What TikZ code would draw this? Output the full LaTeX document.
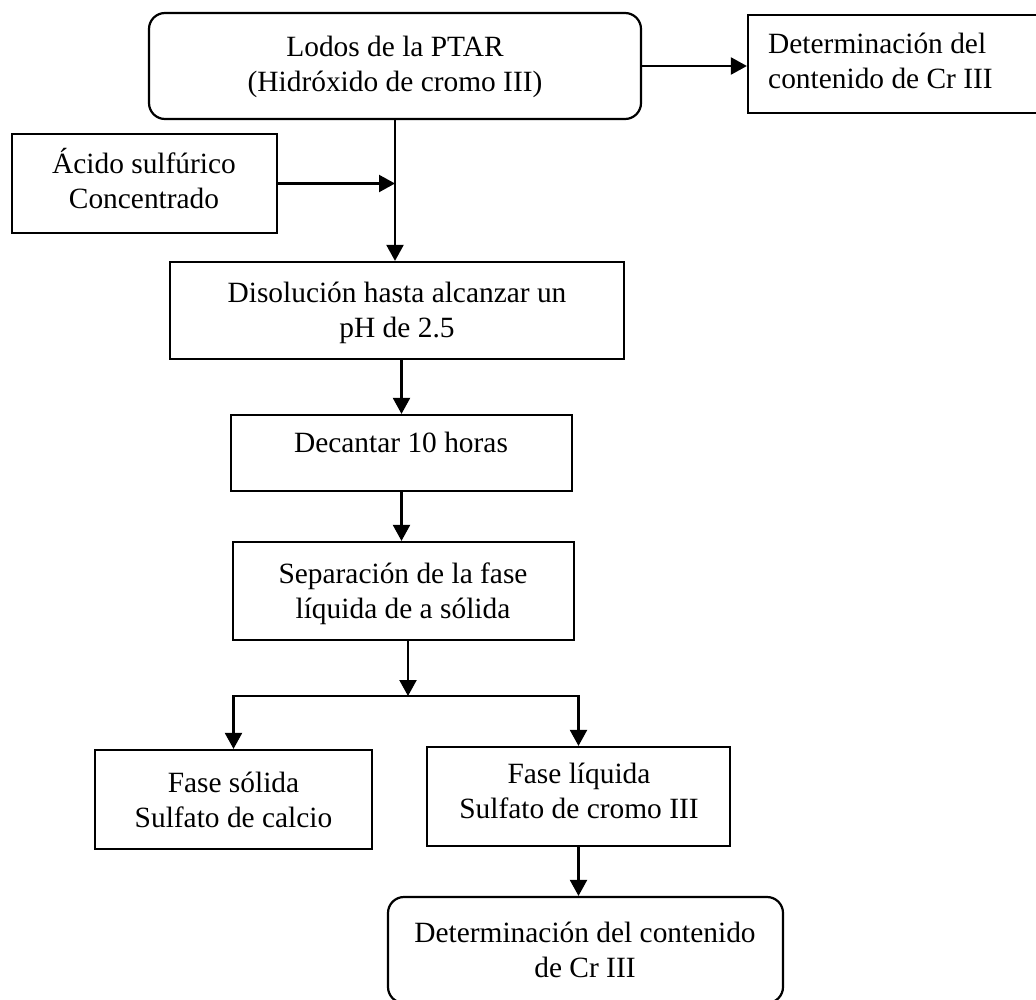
\documentclass[tikz,border=0pt]{standalone}
\usepackage{fontspec}
\setmainfont{Liberation Serif}
\usetikzlibrary{arrows.meta}
% two centred lines whose first baseline is the box baseline
\newcommand{\twolines}[2]{\begin{tabular}[t]{@{}c@{}}#1\\#2\end{tabular}}
\newcommand{\twolinesleft}[2]{\begin{tabular}[t]{@{}l@{}}#1\\#2\end{tabular}}
\begin{document}
\begin{tikzpicture}[x=1pt,y=-1pt]
\tikzset{
  boxsq/.style={draw, line width=2.2pt, inner sep=0pt, rectangle},
  boxrd/.style={boxsq, rounded corners=16pt},
  lbl/.style={inner sep=0pt, anchor=base, font=\fontsize{29.4}{35}\selectfont},
  lblleft/.style={lbl, anchor=base west},
  arr/.style={line width=2.2pt, -{Triangle[length=16pt,width=17pt]}},
}
\useasboundingbox (0,0) rectangle (1036,999);

% process boxes
\node[boxrd, minimum width=492pt, minimum height=106pt] (lodos)  at (395,66) {};
\node[boxsq, minimum width=292pt, minimum height=98pt]  (det1)   at (894,64) {};
\node[boxsq, minimum width=265pt, minimum height=99pt]  (acido)  at (144.5,183.5) {};
\node[boxsq, minimum width=454pt, minimum height=97pt]  (disol)  at (397,310.5) {};
\node[boxsq, minimum width=341pt, minimum height=76pt]  (decant) at (401.5,453) {};
\node[boxsq, minimum width=341pt, minimum height=98pt]  (sep)    at (403.5,591) {};
\node[boxsq, minimum width=277pt, minimum height=99pt]  (solid)  at (233.5,799.5) {};
\node[boxsq, minimum width=303pt, minimum height=99pt]  (liquid) at (578.5,796.5) {};
\node[boxrd, minimum width=395pt, minimum height=106pt] (det2)   at (585.5,950) {};

% box texts
\node[lbl] (tlodos)  at (395,56)    {\twolines{Lodos de la PTAR}{(Hidróxido de cromo III)}};
\node[lblleft] (tdet1) at (768,53)  {\twolinesleft{Determinación del}{contenido de Cr III}};
\node[lbl] (tacido)  at (144,173)   {\twolines{Ácido sulfúrico}{Concentrado}};
\node[lbl] (tdisol)  at (397,302)   {\twolines{Disolución hasta alcanzar un}{pH de 2.5}};
\node[lbl] (tdecant) at (401,452)   {Decantar 10 horas};
\node[lbl] (tsep)    at (403,583)   {\twolines{Separación de la fase}{líquida de a sólida}};
\node[lbl] (tsolid)  at (233.5,792) {\twolines{Fase sólida}{Sulfato de calcio}};
\node[lbl] (tliquid) at (579,783)   {\twolines{Fase líquida}{Sulfato de cromo III}};
\node[lbl] (tdet2)   at (585,942)   {\twolines{Determinación del contenido}{de Cr III}};

% connectors
\draw[arr] (lodos.east) -- (lodos.east -| det1.west);
\draw[arr] (lodos.south) -- (lodos.south |- disol.north);
\draw[arr] (acido.east) -- (acido.east -| lodos.south);
\draw[arr] (decant.north |- disol.south) -- (decant.north);
\draw[arr] (decant.south) -- (decant.south |- sep.north);
\coordinate (split) at (408,696);
\draw[arr] (sep.south -| split) -- (split);
\draw[arr] (split) -| (solid.north);
\draw[arr] (split) -| (liquid.north);
\draw[arr] (liquid.south) -- (liquid.south |- det2.north);
\end{tikzpicture}
\end{document}
